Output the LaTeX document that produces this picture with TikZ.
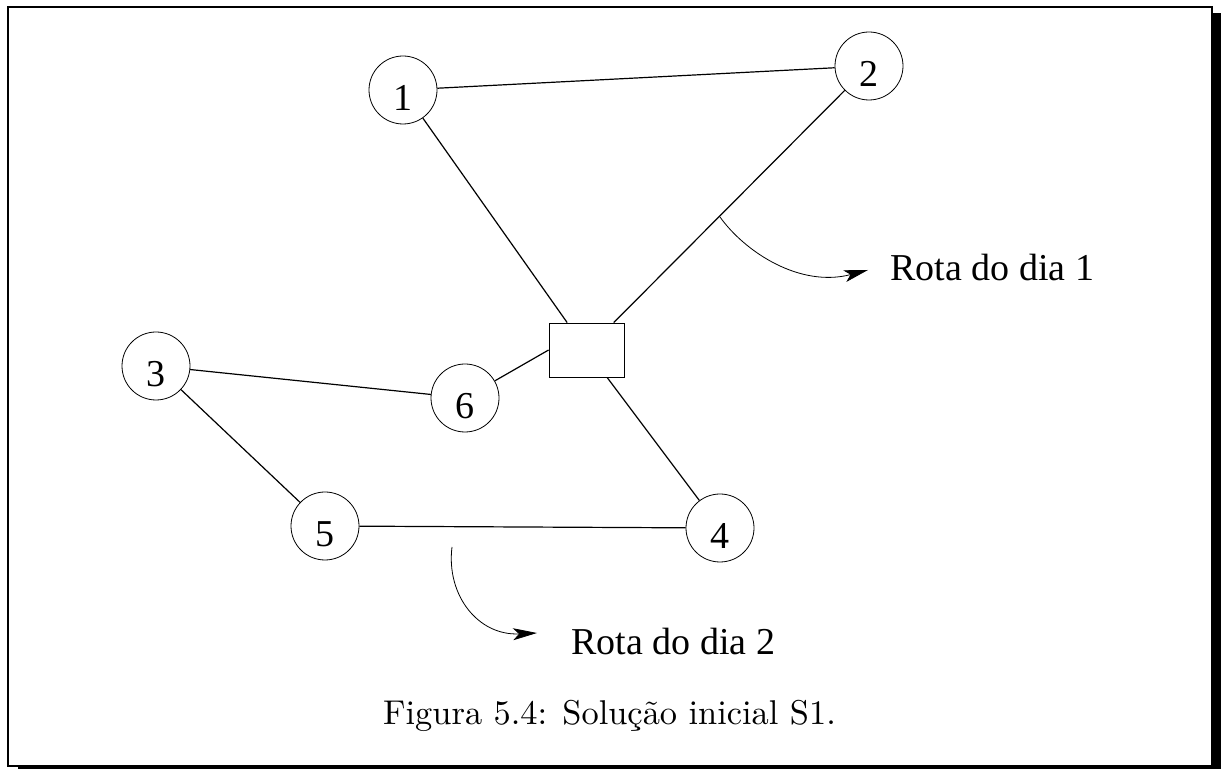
\documentclass[tikz,border=0pt]{standalone}
\usepackage{graphicx}
\usepackage{fontspec}
\newfontfamily\tms{Liberation Serif}
\usetikzlibrary{arrows.meta}
\tikzset{
	x = .5pt,
	y = -.5pt,
	line width = .6pt,
	vertex/.style={
		draw,
		circle,
		minimum size=34pt,
		inner sep=0pt,
		font=\tms\fontsize{19}{22}\selectfont,
		text height=21pt,
		text depth=0pt
	},
	depot/.style={
		draw,
		rectangle,
		minimum width=37.5pt,
		minimum height=27pt,
		inner sep=0pt
	},
	edge/.style={
		line width=.6pt
	},
	route/.style={
		->,
		>={Stealth[length=12pt, width=6pt, inset=3pt]}
	},
	note/.style={
		font=\tms\fontsize{19}{22}\selectfont,
		inner sep=0pt,
		anchor=base west
	}
}

\begin{document}
\begin{tikzpicture}
\useasboundingbox (0,0) rectangle (1222,769);
% shadowed frame
\fill (18,13) rectangle (1221,769);
\draw[line width=1.25pt, fill=white] (8,7) rectangle (1212,766);

\node[vertex] (n1) at (403,90) {1};
\node[vertex] (n2) at (869,66) {2};
\node[vertex] (n3) at (156,366) {3};
\node[vertex] (n4) at (720,528) {4};
\node[vertex] (n5) at (325,526) {5};
\node[vertex] (n6) at (465,398) {6};
\node[depot] (dep) at (586.5,350) {};

\draw[edge] (n1) -- (n2);
\draw[edge] (n1) -- (dep);
\draw[edge] (n2) -- (dep);
\draw[edge] (dep.west) -- (n6);
\draw[edge] (dep) -- (n4);
\draw[edge] (n3) -- (n6);
\draw[edge] (n3) -- (n5);
\draw[edge] (n5) -- (n4);

\node[note] (lbl1) at (890,281) {Rota do dia 1};
\node[note] (lbl2) at (571,655) {Rota do dia 2};

\coordinate (r1) at (720,217);
\coordinate (t1) at (868,270);
\draw[route] (r1) .. controls (745,252) and (800,288) .. (t1);
\coordinate (r2) at (452,547);
\coordinate (t2) at (537,633);
\draw[route] (r2) .. controls (446,595) and (478,636) .. (t2);

\node[anchor=base] (cap) at (609.5,725) {\scalebox{1.72}{Figura 5.4: Solução inicial S1.}};
\end{tikzpicture}
\end{document}
